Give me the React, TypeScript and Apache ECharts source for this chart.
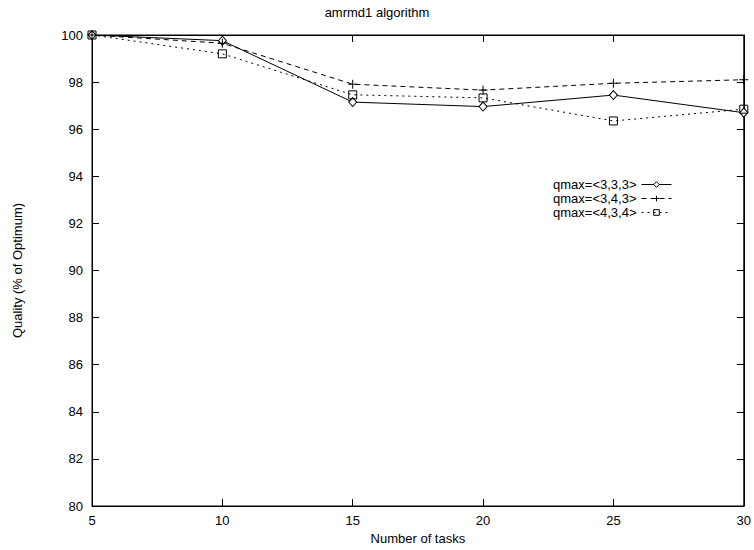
import React, { useEffect, useRef } from "react";
import * as echarts from "echarts";

const tasks = [5, 10, 15, 20, 25, 30];
const q333 = [100, 99.76, 97.15, 96.96, 97.45, 96.7];
const q343 = [100, 99.65, 97.91, 97.66, 97.95, 98.1];
const q434 = [100, 99.2, 97.46, 97.33, 96.35, 96.85];
const names = ["qmax=<3,3,3>", "qmax=<3,4,3>", "qmax=<4,3,4>"];
const yTicks = [80, 100, 2];
const xTicks = [5, 30, 5];

const FONT = "'Liberation Sans', Arial, Helvetica, sans-serif";
const PLUS = "path://M5,0 L5,10 M0,5 L10,5";

export default function App() {
  const ref = useRef<HTMLDivElement>(null);
  useEffect(() => {
    document.body.style.margin = "0";
    if (!ref.current) return;
    const chart = echarts.init(ref.current, null, { renderer: "svg" });
    const mk = (vals: number[]) => tasks.map((t, i) => [t, vals[i]]);
    const axisCommon = {
      axisLine: { show: true, lineStyle: { color: "#000", width: 1 } },
      axisTick: { show: true, inside: true, length: 7, lineStyle: { color: "#000" } },
      splitLine: { show: false },
    };
    const series: any[] = [
      {
        name: names[0],
        type: "line",
        data: mk(q333),
        symbol: "diamond",
        symbolSize: [8, 9],
        color: "#000",
        lineStyle: { color: "#000", width: 1, type: "solid" },
        itemStyle: { color: "#fff", borderColor: "#000", borderWidth: 1 },
      },
      {
        name: names[1],
        type: "line",
        data: mk(q343),
        symbol: PLUS,
        symbolSize: 9,
        color: "#000",
        lineStyle: { color: "#000", width: 1, type: [5, 4] },
        itemStyle: { color: "rgba(0,0,0,0)", borderColor: "#000", borderWidth: 1 },
      },
      {
        name: names[2],
        type: "line",
        data: mk(q434),
        symbol: "rect",
        symbolSize: 8,
        color: "#000",
        lineStyle: { color: "#000", width: 1, type: [2, 4] },
        itemStyle: { color: "rgba(0,0,0,0)", borderColor: "#000", borderWidth: 1 },
      },
    ];
    chart.setOption({
      animation: false,
      backgroundColor: "#fff",
      textStyle: { fontFamily: FONT },
      title: {
        text: "amrmd1 algorithm",
        left: "center",
        top: 1,
        textStyle: { fontFamily: FONT, fontSize: 13, fontWeight: "normal", color: "#000" },
      },
      legend: {
        orient: "vertical",
        align: "right",
        right: 77,
        top: 173,
        itemGap: 1,
        itemWidth: 30,
        itemHeight: 7,
        data: names,
        lineStyle: { width: 1 },
        itemStyle: { borderWidth: 1 },
        textStyle: { fontFamily: FONT, fontSize: 13, lineHeight: 13, color: "#000" },
      },
      grid: {
        left: 92,
        right: 8,
        top: 35,
        bottom: 37,
        show: true,
        borderColor: "#000",
        borderWidth: 1,
        containLabel: false,
      },
      xAxis: [
        {
          type: "value",
          min: xTicks[0],
          max: xTicks[1],
          interval: xTicks[2],
          name: "Number of tasks",
          nameLocation: "middle",
          nameGap: 26,
          nameTextStyle: { fontFamily: FONT, fontSize: 13, color: "#000" },
          axisLabel: { color: "#000", fontSize: 13, fontFamily: FONT, margin: 8 },
          ...axisCommon,
        },
        {
          type: "value",
          position: "top",
          min: xTicks[0],
          max: xTicks[1],
          interval: xTicks[2],
          axisLabel: { show: false },
          ...axisCommon,
        },
      ],
      yAxis: [
        {
          type: "value",
          min: yTicks[0],
          max: yTicks[1],
          interval: yTicks[2],
          name: "Quality (% of Optimum)",
          nameLocation: "middle",
          nameGap: 68,
          nameRotate: 90,
          nameTextStyle: { fontFamily: FONT, fontSize: 13, color: "#000" },
          axisLabel: { color: "#000", fontSize: 13, fontFamily: FONT, margin: 9 },
          ...axisCommon,
        },
        {
          type: "value",
          position: "right",
          min: yTicks[0],
          max: yTicks[1],
          interval: yTicks[2],
          axisLabel: { show: false },
          ...axisCommon,
        },
      ],
      series,
    });
    return () => chart.dispose();
  }, []);
  return <div ref={ref} style={{ width: 754, height: 550 }} />;
}
